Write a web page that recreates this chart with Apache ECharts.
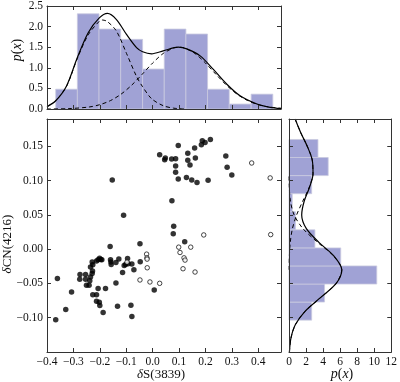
<!DOCTYPE html>
<html><head><meta charset="utf-8">
<script src="https://cdn.jsdelivr.net/npm/echarts@6/dist/echarts.min.js"></script>
<style>html,body{margin:0;padding:0;background:#fff}#c{width:400px;height:382px}</style>
</head><body><div id="c"></div>
<script>
// ---------- data ----------
const filledPts = [
 [-0.153,0.101],[0.0265,0.138],[0.0455,0.1307],[0.048,0.133],[0.072,0.1316],[0.073,0.0706],[0.087,0.132],[0.087,0.1214],[0.087,0.1123],[0.097,0.1515],[0.097,0.1026],[0.128,0.1046],[0.133,0.140],[0.133,0.1297],[0.1415,0.123],[0.148,0.101],[0.159,0.1476],[0.1617,0.133],[0.168,0.0973],[0.1845,0.1525],[0.188,0.1583],[0.1985,0.1558],[0.21,0.1006],[0.2186,0.160],[0.277,0.136],[0.282,0.1195],[0.2998,0.1084],
 [-0.110,0.0494],[0.0797,0.0334],[0.078,0.0227],[0.1214,0.0107],[-0.048,0.0078],[-0.161,0.0039],
 [-0.367,-0.103],[-0.3606,-0.0426],[-0.329,-0.088],[-0.307,-0.0623],[-0.275,-0.0368],[-0.276,-0.044],[-0.254,-0.0368],[-0.254,-0.044],[-0.2505,-0.0527],[-0.2406,-0.0527],[-0.238,-0.046],[-0.2353,-0.0404],[-0.229,-0.0356],[-0.2277,-0.0317],[-0.229,-0.0188],[-0.2353,-0.0261],[-0.2266,-0.0227],[-0.2125,-0.0173],[-0.2065,-0.0155],[-0.201,-0.0131],[-0.196,-0.015],[-0.1924,-0.0155],[-0.2266,-0.0663],[-0.2125,-0.0663],[-0.2065,-0.0575],[-0.2125,-0.076],[-0.202,-0.0775],[-0.2,-0.0822],[-0.1875,-0.0924],[-0.1784,-0.0575],[-0.1594,-0.0155],[-0.1582,-0.0188],[-0.157,-0.0222],[-0.139,-0.0194],[-0.139,-0.0493],[-0.133,-0.0832],[-0.128,-0.0144],[-0.1139,-0.034],[-0.1078,-0.0239],[-0.1025,-0.0224],[-0.095,-0.0137],[-0.0926,-0.0213],[-0.0786,-0.0217],[-0.071,-0.030],[-0.0823,-0.0818],[-0.0786,-0.0982],[-0.047,-0.0184],[0.006,-0.0594]
];
const openPts = [
 [0.375,0.1258],[0.445,0.104],[0.447,0.0213],[0.1935,0.0208],[0.0987,0.003],[0.1442,0.003],[0.1036,-0.0048],[0.1188,-0.0126],[0.1226,-0.0159],[0.115,-0.0285],[0.1605,-0.0333],[-0.0228,-0.0072],[-0.0217,-0.0126],[-0.021,-0.0145],[-0.0205,-0.0271],[-0.048,-0.0449],[-0.0102,-0.0478],[0.0266,-0.0498],[-0.097,-0.0188]
];
// top histogram (dS bins, density)
const topEdges = [-0.367,-0.285,-0.203,-0.121,-0.038,0.044,0.126,0.208,0.290,0.373,0.455];
const topDens  = [0.48,2.31,1.94,1.69,0.97,1.94,1.82,0.48,0.12,0.36];
// right histogram (dCN bins, density)
const rightEdges = [-0.1035,-0.0771,-0.0508,-0.0244,0.0019,0.0283,0.0547,0.0810,0.1074,0.1338,0.1601];
const rightDens  = [2.66,4.17,10.3,6.07,3.04,0.76,0.38,2.66,4.6,3.4];
// top panel curves
const topTotalX = [-0.40,-0.367,-0.326,-0.285,-0.244,-0.202,-0.171,-0.137,-0.099,-0.061,-0.038,-0.004,0.040,0.097,0.129,0.180,0.230,0.281,0.331,0.395,0.445,0.486];
const topTotalY = [0.056,0.20,0.56,1.25,1.85,2.21,2.32,2.17,1.81,1.49,1.39,1.34,1.41,1.50,1.46,1.29,0.96,0.60,0.32,0.12,0.04,0.01];
const topComp1X = [-0.40,-0.367,-0.326,-0.285,-0.244,-0.202,-0.19,-0.171,-0.137,-0.099,-0.061,-0.038,-0.004,0.040,0.080,0.120];
const topComp1Y = [0.055,0.20,0.55,1.23,1.80,2.13,2.16,2.12,1.89,1.35,0.79,0.54,0.25,0.08,0.02,0.0];
const topComp2X = [-0.40,-0.32,-0.24,-0.20,-0.16,-0.12,-0.08,-0.04,0.00,0.04,0.08,0.10,0.12,0.16,0.20,0.24,0.28,0.32,0.36,0.40,0.44,0.486];
const topComp2Y = [0.001,0.008,0.049,0.105,0.203,0.358,0.575,0.84,1.116,1.348,1.482,1.50,1.482,1.348,1.116,0.84,0.575,0.358,0.203,0.105,0.049,0.02];
// right panel curves (dCN values and density)
const rightTotalY = [-0.15,-0.13,-0.11,-0.09,-0.07,-0.05,-0.03,-0.01,0.01,0.03,0.05,0.07,0.09,0.11,0.13,0.15,0.17,0.19];
const rightTotalP = [0.05,0.223,0.754,1.934,3.76,5.54,6.20,5.28,3.51,2.04,1.49,1.78,2.40,2.82,2.73,2.15,1.38,0.72];
const rightCompAY = [-0.15,-0.13,-0.11,-0.09,-0.07,-0.05,-0.03,-0.01,0.01,0.03,0.05,0.07,0.09,0.11];
const rightCompAP = [0.05,0.223,0.754,1.934,3.76,5.54,6.19,5.24,3.36,1.64,0.60,0.17,0.036,0.006];
const rightCompBY = [-0.03,-0.01,0.01,0.03,0.05,0.07,0.09,0.11,0.13,0.15,0.17,0.19];
const rightCompBP = [0.011,0.044,0.148,0.40,0.894,1.61,2.36,2.81,2.73,2.15,1.38,0.72];
const xRange = {min:-0.4, max:0.486, interval:0.1};
const yRange = {min:-0.15, max:0.19, interval:0.05};
const topYRange = {min:0, max:2.5, interval:0.5};
const rightXRange = {min:0, max:12, interval:2};

// ---------- chart ----------
const FONT = 'Liberation Serif';
const AX = '#333';
const BAR = '#a0a2d5';
const tickStyle = {show:true, inside:true, length:4, lineStyle:{color:AX, width:1}};
const lineStyle = {show:true, onZero:false, lineStyle:{color:AX, width:1}};
const labStyle = {fontFamily:FONT, fontSize:11.5, color:'#111'};
const minus = s => s.replace('-', '\u2212');
function fmt(dec, step){ return v => { const k = v/step; if (Math.abs(k-Math.round(k))>1e-6) return ''; return minus(v.toFixed(dec)); }; }

function mkAxis(grid, pos, rng, showLabel, dec){
  return {type:'value', gridIndex:grid, position:pos, min:rng.min, max:rng.max, interval:rng.interval, z:10,
    axisLine:lineStyle, axisTick:tickStyle, splitLine:{show:false},
    axisLabel: showLabel ? Object.assign({show:true, margin:4, showMinLabel:true, showMaxLabel:true, formatter: fmt(dec, rng.interval)}, labStyle) : {show:false}};
}

const xAxes = [
  mkAxis(0,'bottom',xRange,false,1), mkAxis(0,'top',xRange,false,1),
  mkAxis(1,'bottom',xRange,true,1),  mkAxis(1,'top',xRange,false,1),
  mkAxis(2,'bottom',rightXRange,true,0),  mkAxis(2,'top',rightXRange,false,0)
];
const yAxes = [
  mkAxis(0,'left',topYRange,true,1), mkAxis(0,'right',topYRange,false,1),
  mkAxis(1,'left',yRange,true,2), mkAxis(1,'right',yRange,false,2),
  mkAxis(2,'left',yRange,false,2), mkAxis(2,'right',yRange,false,2)
];
xAxes[2].axisLabel.showMaxLabel = false;
yAxes[2].axisLabel.showMinLabel = false;
yAxes[2].axisLabel.showMaxLabel = false;

const topBars = topDens.map((d,i)=>[topEdges[i], topEdges[i+1], d]);
const rightBars = rightDens.map((d,i)=>[rightEdges[i], rightEdges[i+1], d]);
const zip = (a,b) => a.map((v,i)=>[v,b[i]]);

const solid = {color:'#000', width:1.2};
const dashed = {color:'#000', width:1, type:[4,3]};

const option = {
  animation:false,
  grid:[
    {left:47, top:5, width:234, height:104},
    {left:47, top:119, width:234, height:233},
    {left:289, top:119, width:106, height:233}
  ],
  xAxis:xAxes, yAxis:yAxes,
  series:[
    {type:'custom', xAxisIndex:0, yAxisIndex:0, data:topBars, encode:{x:[0,1], y:2},
      renderItem:(p,api)=>{ const a=api.coord([api.value(0),api.value(2)]), b=api.coord([api.value(1),0]);
        return {type:'rect', shape:{x:a[0],y:a[1],width:b[0]-a[0],height:b[1]-a[1]}, style:{fill:BAR, stroke:'#c9cadf', lineWidth:0.8}}; }},
    {type:'line', xAxisIndex:0, yAxisIndex:0, data:zip(topComp1X,topComp1Y), smooth:0.3, showSymbol:false, lineStyle:dashed, z:5},
    {type:'line', xAxisIndex:0, yAxisIndex:0, data:zip(topComp2X,topComp2Y), smooth:0.3, showSymbol:false, lineStyle:dashed, z:5},
    {type:'line', xAxisIndex:0, yAxisIndex:0, data:zip(topTotalX,topTotalY), smooth:0.3, showSymbol:false, lineStyle:solid, z:6},

    {type:'scatter', xAxisIndex:2, yAxisIndex:2, data:filledPts, symbol:'circle', symbolSize:5.5, itemStyle:{color:'#000'}},
    {type:'scatter', xAxisIndex:2, yAxisIndex:2, data:openPts, symbol:'circle', symbolSize:4.5, itemStyle:{color:'#fff', borderColor:'#000', borderWidth:0.9}},

    {type:'custom', xAxisIndex:4, yAxisIndex:4, data:rightBars, encode:{x:2, y:[0,1]},
      renderItem:(p,api)=>{ const a=api.coord([0,api.value(1)]), b=api.coord([api.value(2),api.value(0)]);
        return {type:'rect', shape:{x:a[0],y:a[1],width:b[0]-a[0],height:b[1]-a[1]}, style:{fill:BAR, stroke:'#c9cadf', lineWidth:0.8}}; }},
    {type:'line', xAxisIndex:4, yAxisIndex:4, data:zip(rightCompAP,rightCompAY), smooth:0.3, showSymbol:false, lineStyle:dashed, z:5},
    {type:'line', xAxisIndex:4, yAxisIndex:4, data:zip(rightCompBP,rightCompBY), smooth:0.3, showSymbol:false, lineStyle:dashed, z:5},
    {type:'line', xAxisIndex:4, yAxisIndex:4, data:zip(rightTotalP,rightTotalY), smooth:0.3, showSymbol:false, lineStyle:solid, z:6}
  ],
  graphic:[
    {type:'text', x:161, y:375, style:{text:'{i|δ}S(3839)', fontFamily:FONT, fontSize:13, fill:'#111', align:'center', verticalAlign:'middle', rich:{i:{fontStyle:'italic', fontFamily:FONT, fontSize:13}}}},
    {type:'text', x:8, y:244, rotation:Math.PI/2, style:{text:'{i|δ}CN(4216)', fontFamily:FONT, fontSize:13, fill:'#111', align:'center', verticalAlign:'middle', rich:{i:{fontStyle:'italic', fontFamily:FONT, fontSize:13}}}},
    {type:'text', x:17, y:50, rotation:Math.PI/2, style:{text:'{i|p}({i|x})', fontFamily:FONT, fontSize:14, fill:'#111', align:'center', verticalAlign:'middle', rich:{i:{fontStyle:'italic', fontFamily:FONT, fontSize:14}}}},
    {type:'text', x:342, y:374, style:{text:'{i|p}({i|x})', fontFamily:FONT, fontSize:14, fill:'#111', align:'center', verticalAlign:'middle', rich:{i:{fontStyle:'italic', fontFamily:FONT, fontSize:14}}}}
  ]
};
const chart = echarts.init(document.getElementById('c'), null, {renderer:'canvas'});
chart.setOption(option);
</script></body></html>
